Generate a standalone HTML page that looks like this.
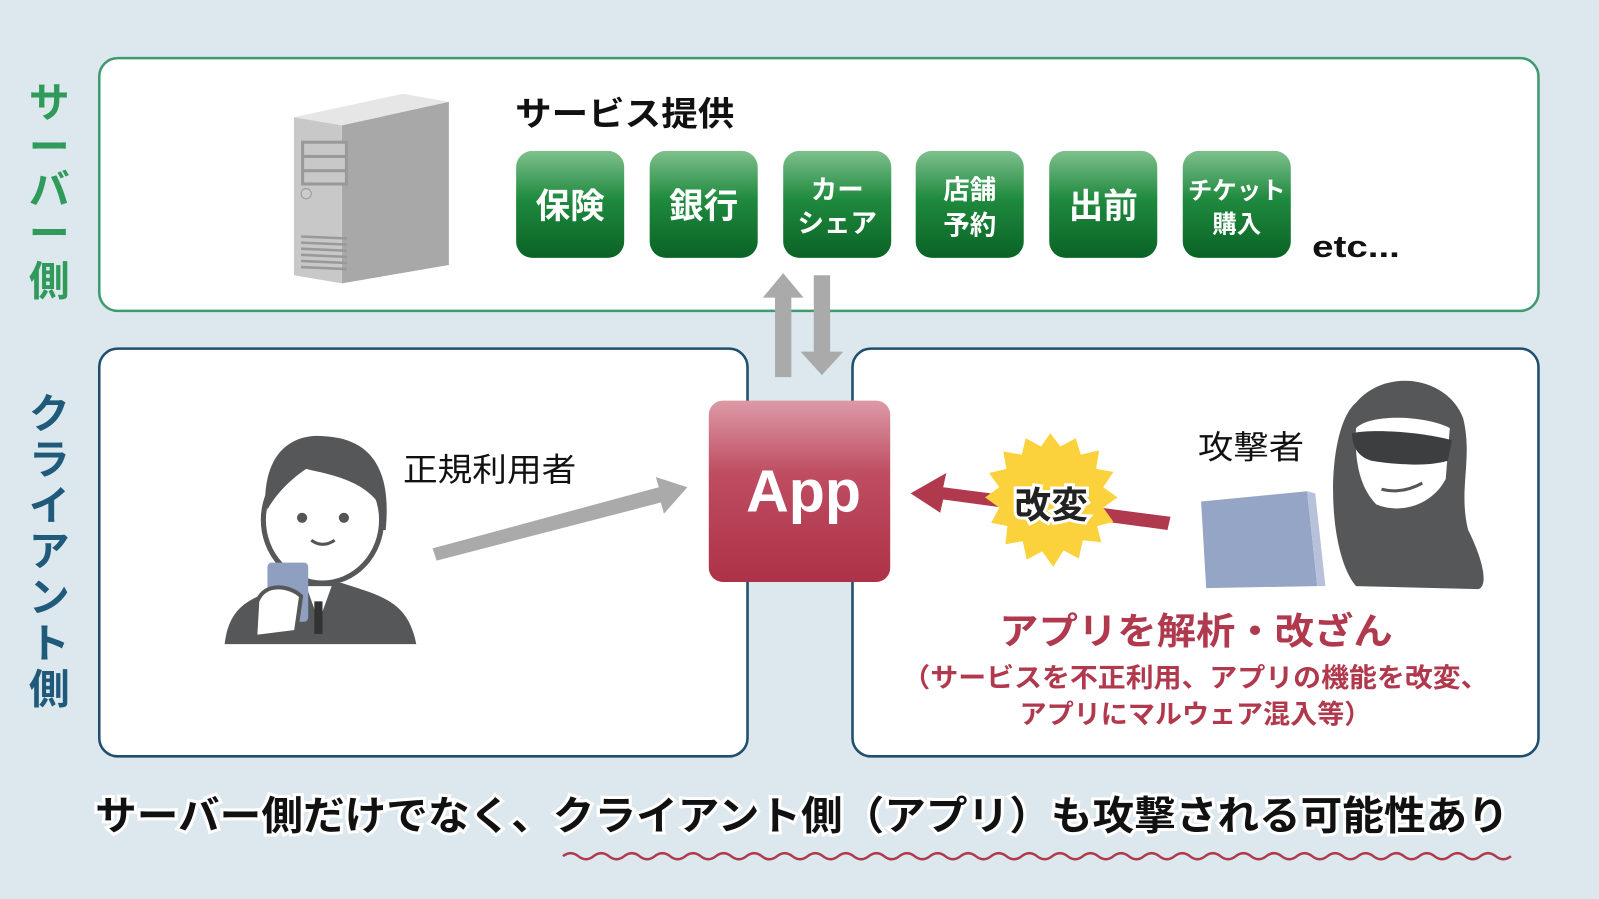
<!DOCTYPE html>
<html><head><meta charset="utf-8"><style>
html,body{margin:0;padding:0;background:#dce8ee;}
svg{display:block;}
text{font-family:"Liberation Sans","Noto Sans CJK JP",sans-serif;}
</style></head><body>
<svg width="1599" height="899" viewBox="0 0 1568 882" xmlns="http://www.w3.org/2000/svg">
<defs>
<linearGradient id="g" x1="0" y1="0" x2="0" y2="1"><stop offset="0" stop-color="#7fc08e"/><stop offset="0.45" stop-color="#1f8a3e"/><stop offset="1" stop-color="#0a6326"/></linearGradient>
<linearGradient id="r" x1="0" y1="0" x2="0" y2="1"><stop offset="0" stop-color="#dc9aa6"/><stop offset="0.4" stop-color="#bf4d62"/><stop offset="1" stop-color="#ad3247"/></linearGradient>
</defs>
<rect width="1568" height="882" fill="#dce8ee"/>
<rect x="97" y="57" width="1412" height="248" rx="18" fill="#fff" stroke="#3f9a70" stroke-width="2.5"/>
<rect x="97" y="342" width="636" height="400" rx="18" fill="#fff" stroke="#1f4e6e" stroke-width="2.5"/>
<rect x="836" y="342" width="673" height="400" rx="18" fill="#fff" stroke="#1f4e6e" stroke-width="2.5"/>
<g font-size="40" font-weight="bold" fill="#2f9a5a" text-anchor="middle">
<text x="48" y="115">サ</text><text x="48" y="158" >ー</text><text x="48" y="200">バ</text><text x="48" y="243">ー</text><text x="48" y="290">側</text></g>
<g font-size="40" font-weight="bold" fill="#1f5a7a" text-anchor="middle">
<text x="48" y="420">ク</text><text x="48" y="465">ラ</text><text x="48" y="510">イ</text><text x="48" y="555">ア</text><text x="48" y="600">ン</text><text x="48" y="645">ト</text><text x="48" y="690">側</text></g>
<!-- server -->
<polygon points="288,115 395,92 440,100 335,123" fill="#e6e6e6"/>
<polygon points="335,123 440,100 440,260 335,278" fill="#a8a8a8"/>
<polygon points="288,115 335,123 335,278 288,270" fill="#c8c8c8"/>
<rect x="295" y="138" width="46" height="44" fill="#999"/>
<rect x="298" y="141" width="40" height="11" fill="#c8c8c8"/><rect x="298" y="155" width="40" height="11" fill="#c8c8c8"/><rect x="298" y="169" width="40" height="10" fill="#c8c8c8"/>
<circle cx="300" cy="190" r="5" fill="#ccc" stroke="#999"/>
<g stroke="#999" stroke-width="2.5"><line x1="295" y1="232" x2="340" y2="234"/><line x1="295" y1="238" x2="340" y2="240"/><line x1="295" y1="244" x2="340" y2="246"/><line x1="295" y1="250" x2="340" y2="252"/><line x1="295" y1="256" x2="340" y2="258"/><line x1="295" y1="262" x2="340" y2="264"/></g>
<text x="505" y="123" font-size="33" font-weight="bold" fill="#111" textLength="215" lengthAdjust="spacingAndGlyphs">サービス提供</text>
<g fill="url(#g)">
<rect x="506" y="148" width="106" height="105" rx="16"/><rect x="637" y="148" width="106" height="105" rx="16"/><rect x="768" y="148" width="106" height="105" rx="16"/><rect x="898" y="148" width="106" height="105" rx="16"/><rect x="1029" y="148" width="106" height="105" rx="16"/><rect x="1160" y="148" width="106" height="105" rx="16"/></g>
<g fill="#fff" font-weight="bold" text-anchor="middle">
<text x="559" y="214" font-size="34">保険</text><text x="690" y="214" font-size="34">銀行</text>
<text x="821" y="195" font-size="26">カー</text><text x="821" y="228" font-size="26">シェア</text>
<text x="951" y="195" font-size="26">店舗</text><text x="951" y="230" font-size="26">予約</text>
<text x="1082" y="214" font-size="34">出前</text>
<text x="1213" y="195" font-size="24">チケット</text><text x="1213" y="228" font-size="24">購入</text></g>
<text x="1287" y="252" font-size="30" font-weight="bold" fill="#111" textLength="86" lengthAdjust="spacingAndGlyphs">etc...</text>
<!-- up/down arrows -->
<polygon points="760,370 776,370 776,292 788,292 768,268 748,292 760,292" fill="#aaa"/>
<polygon points="798,270 814,270 814,345 827,345 806,368 785,345 798,345" fill="#aaa"/>
<!-- App -->
<rect x="695" y="393" width="178" height="178" rx="14" fill="url(#r)"/>
<text x="788" y="502" font-size="58" font-weight="bold" fill="#fff" text-anchor="middle">App</text>
<!-- user -->
<path d="M220,632 C225,590 250,585 290,572 L335,572 C375,585 400,590 408,632 Z" fill="#555759"/>
<polygon points="300,575 325,575 316,600 309,600" fill="#fff"/>
<rect x="308" y="590" width="8" height="32" fill="#333"/>
<path d="M262,520 C250,440 290,425 318,428 C355,430 385,450 378,520 Z" fill="#555759"/>
<ellipse cx="316" cy="510" rx="58" ry="62" fill="#fff" stroke="#555759" stroke-width="5"/>
<path d="M262,500 C255,455 285,430 318,432 C352,433 378,455 372,495 C355,470 320,465 300,460 C285,470 270,485 262,500Z" fill="#555759"/>
<circle cx="296" cy="508" r="5" fill="#555"/><circle cx="337" cy="508" r="5" fill="#555"/>
<path d="M305,530 Q316,538 328,530" stroke="#555" stroke-width="3" fill="none"/>
<rect x="262" y="552" width="40" height="58" rx="4" fill="#8e9fbf"/>
<path d="M252,590 C260,570 285,575 295,585 L290,620 L250,625 Z" fill="#fff" stroke="#555759" stroke-width="4"/>
<text x="395" y="472" font-size="32" fill="#111" textLength="170" lengthAdjust="spacingAndGlyphs">正規利用者</text>
<polygon points="424,538 646,478 643,468 674,478 651,504 648,493 428,550" fill="#aaa"/>
<!-- attacker -->
<path d="M1330,575 C1300,540 1300,420 1330,395 C1360,360 1420,370 1435,410 C1445,450 1430,480 1440,520 C1455,550 1460,575 1450,578 Z" fill="#555759"/>
<path d="M1330,420 C1345,405 1400,408 1422,420 L1418,470 C1405,495 1375,505 1350,495 C1335,480 1328,455 1330,420Z" fill="#fff"/>
<path d="M1326,425 C1350,420 1400,425 1424,432 L1420,452 C1400,458 1370,456 1345,452 C1332,448 1326,438 1326,425Z" fill="#3c3e40"/>
<path d="M1355,480 Q1375,485 1395,474" stroke="#555" stroke-width="3" fill="none"/>
<polygon points="1178,492 1282,482 1292,575 1183,577" fill="#95a5c6"/>
<polygon points="1282,482 1290,484 1300,575 1292,575" fill="#b7c2da"/>
<text x="1175" y="450" font-size="32" fill="#111" textLength="104" lengthAdjust="spacingAndGlyphs">攻撃者</text>
<polygon points="1148,507 1145,520 925,490 922,503 893,484 928,464 925,478" fill="#b0394e"/>
<polygon points="1030,425 1040,438 1055,430 1060,446 1078,442 1075,460 1092,463 1082,478 1096,488 1082,498 1092,512 1076,516 1080,532 1062,530 1058,548 1043,540 1033,556 1022,541 1007,549 1003,531 986,534 988,516 972,513 980,498 966,488 980,478 970,464 987,460 984,443 1002,446 1006,430 1021,438" fill="#fbd23c"/>
<text x="1031" y="508" font-size="36" font-weight="bold" fill="#222" text-anchor="middle" stroke="#fff" stroke-width="6" paint-order="stroke">改変</text>
<text x="980" y="632" font-size="36" font-weight="bold" fill="#b0394e" textLength="386" lengthAdjust="spacingAndGlyphs">アプリを解析・改ざん</text>
<text x="885" y="674" font-size="26" font-weight="bold" fill="#b0394e" textLength="575" lengthAdjust="spacingAndGlyphs">（サービスを不正利用、アプリの機能を改変、</text>
<text x="1000" y="710" font-size="26" font-weight="bold" fill="#b0394e" textLength="345" lengthAdjust="spacingAndGlyphs">アプリにマルウェア混入等）</text>
<text x="93" y="814" font-size="39" font-weight="bold" fill="#111" stroke="#fff" stroke-width="6" paint-order="stroke" textLength="1387" lengthAdjust="spacingAndGlyphs">サーバー側だけでなく、クライアント側（アプリ）も攻撃される可能性あり</text>
<path d="M552,840 q7.5,-6 15,0 t15,0 t15,0 t15,0 t15,0 t15,0 t15,0 t15,0 t15,0 t15,0 t15,0 t15,0 t15,0 t15,0 t15,0 t15,0 t15,0 t15,0 t15,0 t15,0 t15,0 t15,0 t15,0 t15,0 t15,0 t15,0 t15,0 t15,0 t15,0 t15,0 t15,0 t15,0 t15,0 t15,0 t15,0 t15,0 t15,0 t15,0 t15,0 t15,0 t15,0 t15,0 t15,0 t15,0 t15,0 t15,0 t15,0 t15,0 t15,0 t15,0 t15,0 t15,0 t15,0 t15,0 t15,0 t15,0 t15,0 t15,0 t15,0 t15,0 t15,0 t15,0" fill="none" stroke="#b0394e" stroke-width="2.5"/>
</svg>
</body></html>
